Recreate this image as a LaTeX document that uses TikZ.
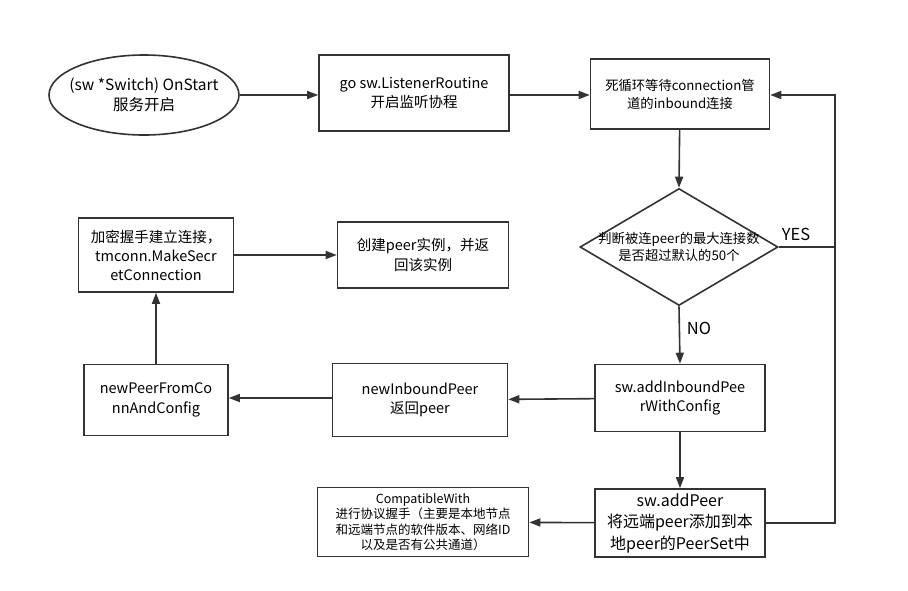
\documentclass[tikz,border=0pt]{standalone}
\usepackage{fontspec}
\setmainfont{Noto Sans CJK SC}
\usetikzlibrary{arrows.meta,shapes.geometric}
\definecolor{ln}{HTML}{333333}
\tikzset{
  box/.style={draw=ln,line width=1.6pt,rectangle,align=center,inner sep=1pt,font=\fontsize{14.5}{19.5}\selectfont},
  conn/.style={draw=ln,line width=1.6pt,-{Triangle[length=11pt,width=8pt]}},
  plain/.style={draw=ln,line width=1.6pt},
}
\begin{document}
\begin{tikzpicture}[x=1pt,y=-1pt]
\useasboundingbox (0,0) rectangle (908,590);
\fill[white] (0,0) rectangle (908,590);
\node[draw=ln,line width=1.6pt,ellipse,minimum width=190pt,minimum height=80pt,inner xsep=-11pt,inner ysep=0pt,align=center,font=\fontsize{15.5}{20}\selectfont] (start) at (144,95) {(sw *Switch) OnStart\\服务开启};
\node[box,minimum width=190pt,minimum height=76pt] (listen) at (414,93) {go sw.ListenerRoutine\\开启监听协程};
\node[box,minimum width=179pt,minimum height=70pt,font=\fontsize{13.3}{18}\selectfont] (loop) at (680,94) {死循环等待connection管\\道的inbound连接};
\node[draw=ln,line width=1.6pt,diamond,aspect=1.69,minimum width=198pt,minimum height=117pt,inner xsep=-6pt,inner ysep=-2pt,align=center,font=\fontsize{13.3}{17}\selectfont] (dec) at (679,247) {判断被连peer的最大连接数\\是否超过默认的50个};
\node[box,minimum width=170pt,minimum height=67pt] (addin) at (680,398) {sw.addInboundPee\\rWithConfig};
\node[box,minimum width=175pt,minimum height=73pt] (newin) at (420,400) {newInboundPeer\\返回peer};
\node[box,minimum width=144pt,minimum height=71pt] (newpeer) at (156,400) {newPeerFromCo\\nnAndConfig};
\node[box,minimum width=155pt,minimum height=74pt,font=\fontsize{14.5}{19}\selectfont] (secret) at (156,255) {加密握手建立连接，\\tmconn.MakeSecr\\etConnection};
\node[box,minimum width=171pt,minimum height=66pt] (create) at (423,255) {创建peer实例，并返\\回该实例};
\node[box,minimum width=170pt,minimum height=68pt,font=\fontsize{16}{21.5}\selectfont] (addpeer) at (680,523) {sw.addPeer\\将远端peer添加到本\\地peer的PeerSet中};
\node[box,minimum width=211pt,minimum height=69pt,font=\fontsize{12.5}{15.5}\selectfont] (compat) at (423,522) {CompatibleWith\\进行协议握手（主要是本地节点\\和远端节点的软件版本、网络ID\\以及是否有公共通道）};
\coordinate (c1) at (835,247);
\coordinate (c2) at (835,95);
\coordinate (c3) at (835,523);
\draw[conn] (start.east) -- (listen.west|-start.east);
\draw[conn] (listen.east|-start.east) -- (loop.west|-start.east);
\draw[conn] (loop) -- (dec.north);
\draw[conn] (dec.south) -- (addin.north);
\draw[conn] (addin) -- (addpeer);
\draw[conn] (addin) -- (newin);
\draw[conn] (newin.west|-addin) -- (newpeer.east|-addin);
\draw[conn] (newpeer) -- (secret);
\draw[conn] (secret) -- (create);
\draw[conn] (addpeer) -- (compat);
\draw[conn] (dec.east) -- (c1) -- (c2) -- (loop.east|-c2);
\draw[plain] (addpeer.east) -- (c3) -- (c1);
\node[font=\fontsize{16.5}{20}\selectfont,anchor=center] (yes) at (796,234) {YES};
\node[font=\fontsize{16.5}{20}\selectfont,anchor=center] (no) at (699,328) {NO};
\end{tikzpicture}
\end{document}
